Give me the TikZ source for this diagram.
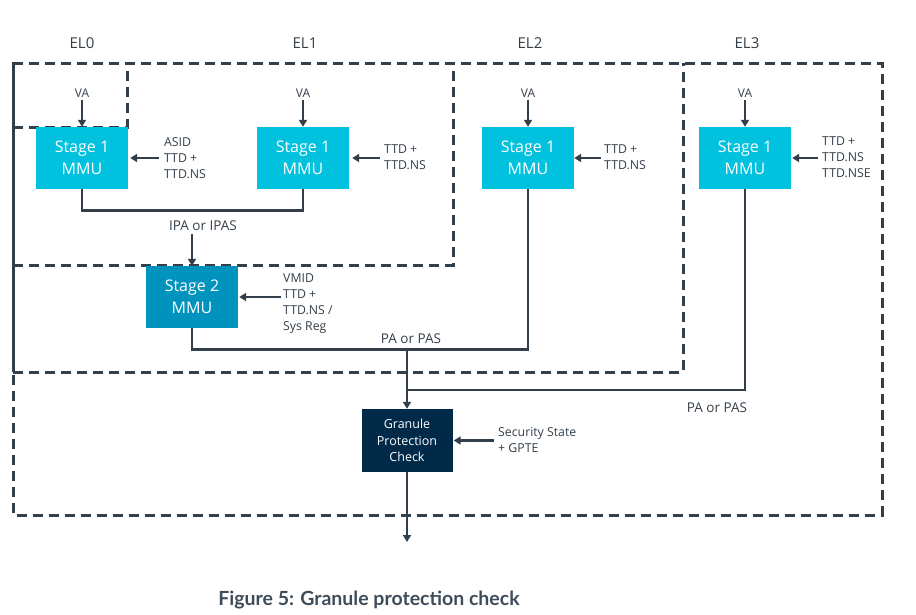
\documentclass[tikz,border=0pt]{standalone}
\usepackage{fontspec}
\setmainfont{Open Sans}
\newfontfamily\capfont{Lato}
\usetikzlibrary{arrows.meta}
\definecolor{lc}{HTML}{333F4A}
\definecolor{s1c}{HTML}{00C1DE}
\definecolor{s2c}{HTML}{0093BE}
\definecolor{gpcc}{HTML}{002A48}
\definecolor{capc}{HTML}{3E4C5A}
\begin{document}
\begin{tikzpicture}[x=1pt,y=-1pt,
  bnd/.style={draw=lc,line width=3pt,dash pattern=on 10pt off 6pt},
  conn/.style={draw=lc,line width=2.6pt},
  arr/.style={conn,-{Triangle[length=7pt,width=8pt]}},
  mmu/.style={minimum width=92pt,minimum height=62pt,inner sep=0pt,text=white,align=center,font=\fontsize{16}{22.5}\selectfont},
  gpcbox/.style={minimum width=91pt,minimum height=63pt,inner sep=0pt,text=white,align=center,fill=gpcc,font=\fontsize{12.5}{16.7}\selectfont},
  lbl/.style={text=lc,font=\fontsize{12.3}{15.8}\selectfont,align=left,anchor=west,inner sep=1pt},
  valbl/.style={text=lc,font=\fontsize{12}{13}\selectfont,inner sep=1pt},
  ellbl/.style={text=lc,font=\fontsize{15}{18}\selectfont,inner sep=0pt},
  palbl/.style={text=lc,font=\fontsize{13.5}{16}\selectfont,inner sep=0pt},
]
\useasboundingbox (0,0) rectangle (916,614);

% exception level boundaries
\draw[draw=lc,line width=3pt] (13,61.5) -- (13,372);
\draw[bnd] (13,63) -- (882,63) -- (882,515) -- (13,515) -- (13,372);
\draw[bnd] (13,372) -- (683,372) -- (683,63);
\draw[bnd] (13,265) -- (453,265) -- (453,63);
\draw[bnd] (13,127) -- (127,127) -- (127,63);

% level labels
\node[ellbl] (el0) at (82,43) {EL0};
\node[ellbl] (el1) at (305,43) {EL1};
\node[ellbl] (el2) at (530,43) {EL2};
\node[ellbl] (el3) at (747,43) {EL3};

% MMU boxes
\node[mmu,fill=s1c] (s0) at (82,158) {Stage 1\\MMU};
\node[mmu,fill=s1c] (s1) at (303,158) {Stage 1\\MMU};
\node[mmu,fill=s1c] (s2) at (528,158) {Stage 1\\MMU};
\node[mmu,fill=s1c] (s3) at (745,158) {Stage 1\\MMU};
\node[mmu,fill=s2c] (st2) at (192,297) {Stage 2\\MMU};
\node[gpcbox] (gpc) at (407,440.5) {Granule\\Protection\\Check};

% VA inputs
\node[valbl] (va0) at (82,93) {VA};
\node[valbl] (va1) at (303,93) {VA};
\node[valbl] (va2) at (528,93) {VA};
\node[valbl] (va3) at (745,93) {VA};
\foreach \v/\s in {va0/s0,va1/s1,va2/s2,va3/s3}
  \draw[arr,shorten <=1pt] (\v.south) -- (\s.north);

% side inputs
\node[lbl] (t0) at (163,158) {ASID\\TTD +\\TTD.NS};
\node[lbl] (t1) at (383,157.5) {TTD +\\TTD.NS};
\node[lbl] (t2) at (603,157.5) {TTD +\\TTD.NS};
\node[lbl] (t3) at (821,157) {TTD +\\TTD.NS\\TTD.NSE};
\node[lbl] (t4) at (282,303.5) {VMID\\TTD +\\TTD.NS /\\Sys Reg};
\node[lbl] (t5) at (497,440) {Security State\\+ GPTE};
\draw[arr,shorten <=4pt,shorten >=2pt] (s0.east -| t0.west) -- (s0.east);
\draw[arr,shorten <=3pt,shorten >=3pt] (s1.east -| t1.west) -- (s1.east);
\draw[arr,shorten <=2pt] (s2.east -| t2.west) -- (s2.east);
\draw[arr,shorten <=3pt,shorten >=1pt] (s3.east -| t3.west) -- (s3.east);
\draw[arr,shorten <=1pt,shorten >=1pt] (st2.east -| t4.west) -- (st2.east);
\draw[arr,shorten <=3pt,shorten >=1pt] (gpc.east -| t5.west) -- (gpc.east);

% stage 1 to stage 2
\draw[conn] (s0.south) -- ++(0,21) -| (s1.south);
\node[palbl] (ipa) at (203,226) {IPA or IPAS};
\coordinate (ipas) at (192,234);
\draw[arr] (ipas) -- (st2.north);

% stage 2 / EL2 to GPC
\draw[conn] (st2.south) -- ++(0,21) -| (s2.south);
\node[palbl] (pa1) at (411,339) {PA or PAS};
\coordinate (m1) at (407,349);
\coordinate (m2) at (407,390);
\draw[arr] (m1) -- (gpc.north);
\draw[conn] (s3.south) |- (m2);
\node[palbl] (pa2) at (717,408) {PA or PAS};

% output
\coordinate (out) at (407,542);
\draw[arr] (gpc.south) -- (out);

% caption
\node[text=capc,font=\capfont\bfseries\fontsize{19.5}{22}\selectfont,inner sep=0pt] (cap) at (369,600) {Figure 5: Granule protection check};
\end{tikzpicture}
\end{document}
